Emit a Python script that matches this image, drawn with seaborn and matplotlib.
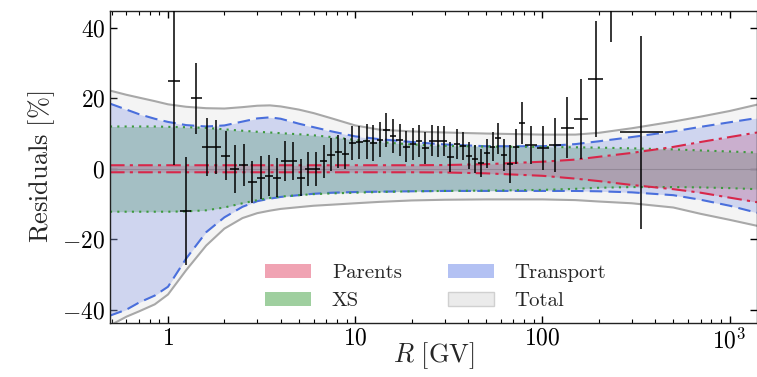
import numpy as np
import pandas as pd
import matplotlib
matplotlib.use("Agg")
import matplotlib.pyplot as plt
import seaborn as sns
from matplotlib.patches import Patch
from matplotlib.ticker import FixedLocator, FixedFormatter, FuncFormatter, LogLocator, NullFormatter

# --- data: rigidity bin edges and residuals (%) of the points ---
bin_edges = [1.00, 1.16, 1.33, 1.51, 1.71, 1.92, 2.15, 2.40, 2.67, 2.97, 3.29, 3.64, 4.02,
             4.43, 4.88, 5.37, 5.90, 6.47, 7.09, 7.76, 8.48, 9.26, 10.1, 11.0, 12.0, 13.0,
             14.1, 15.3, 16.6, 18.0, 19.5, 21.1, 22.8, 24.7, 26.7, 28.8, 31.1, 33.5, 36.1,
             38.9, 41.9, 45.1, 48.5, 52.2, 56.1, 60.3, 64.8, 69.7, 74.9, 80.5, 93.0, 108,
             125, 147, 175, 211, 259, 441]
resid = [25.0, -12.0, 20.0, 6.2, 6.2, 3.7, 0.0, 1.1, -3.8, -2.5, -2.0, -2.5, 2.1, 2.1,
         -2.5, 0.0, 0.0, 2.1, 4.0, 4.9, 4.3, 7.3, 7.5, 7.8, 7.3, 8.2, 11.1, 9.2, 8.2, 6.3,
         7.0, 7.8, 5.9, 8.0, 7.8, 7.8, 3.3, 7.0, 6.5, 3.7, 2.8, 1.6, 4.4, 6.3, 8.7, 4.0,
         1.4, 6.3, 13.0, 6.8, 5.9, 6.8, 11.7, 14.1, 25.5, 55.0, 10.3]
resid_err = [24.0, 15.3, 10.0, 8.2, 7.6, 7.0, 6.8, 6.0, 5.9, 6.0, 5.8, 5.5, 5.7, 5.4,
             5.3, 4.8, 4.9, 4.7, 4.7, 4.8, 4.5, 4.8, 4.6, 5.0, 5.0, 5.0, 4.8, 4.8, 4.6, 4.5,
             4.5, 4.5, 4.5, 4.4, 4.4, 4.3, 4.3, 4.2, 4.0, 3.8, 4.0, 4.0, 4.1, 4.0, 4.4, 4.5,
             5.4, 5.0, 6.0, 5.4, 6.2, 7.6, 8.7, 11.3, 16.5, 19.0, 27.5]

# --- uncertainty bands (%) ---
R_band = [0.49, 0.6, 0.7, 0.85, 1.0, 1.25, 1.6, 2.0, 2.5, 3.0, 3.5, 4.0, 5.0, 6.0, 7.5,
          10, 13.5, 20, 30, 50, 100, 150, 200, 300, 500, 700, 1000, 1400]
total_hi = [22.2, 21.0, 20.2, 19.2, 18.3, 17.6, 17.2, 17.1, 17.5, 17.9, 18.0, 17.7, 16.8,
            15.8, 14.3, 12.3, 11.1, 10.6, 10.3, 10.0, 9.7, 9.7, 10.2, 11.5, 13.4, 14.8,
            16.4, 18.2]
total_lo = [-44.5, -42.0, -40.5, -38.5, -35.7, -28.8, -21.8, -17.0, -14.0, -12.6, -11.9,
            -11.4, -10.9, -10.5, -10.2, -9.8, -9.4, -9.0, -8.8, -8.7, -8.7, -8.9, -9.3,
            -9.8, -11.0, -12.8, -14.5, -16.2]
transport_hi = [18.5, 16.8, 15.5, 14.2, 13.3, 12.4, 12.0, 12.3, 13.4, 14.3, 14.6, 14.2,
                12.8, 11.8, 10.6, 9.2, 8.4, 7.6, 6.9, 6.4, 6.4, 7.0, 7.8, 9.0, 10.6, 11.9,
                13.2, 14.4]
transport_lo = [-41.7, -40.0, -38.0, -36.0, -33.5, -25.5, -18.0, -13.8, -10.8, -9.2, -8.5,
                -8.0, -7.5, -7.1, -6.8, -6.6, -6.5, -6.4, -6.3, -6.3, -6.3, -6.3, -6.4,
                -6.7, -7.5, -8.8, -10.5, -12.5]
xs_hi = [12.0, 12.0, 12.0, 12.0, 11.9, 11.8, 11.6, 11.2, 10.8, 10.5, 10.3, 10.1, 9.8, 9.5,
         9.0, 8.2, 7.6, 6.9, 6.5, 6.3, 6.2, 6.1, 6.0, 5.8, 5.5, 5.2, 4.9, 4.6]
xs_lo = [-12.2, -12.2, -12.2, -12.2, -12.2, -12.1, -11.8, -11.0, -9.8, -8.9, -8.3, -7.9,
         -7.5, -7.2, -7.0, -6.8, -6.6, -6.4, -6.3, -6.2, -6.0, -5.7, -5.4, -5.2, -5.2,
         -5.3, -5.5, -5.8]
parents_hi = [1.0, 1.0, 1.0, 1.0, 1.0, 1.0, 1.0, 1.0, 1.0, 1.0, 1.0, 1.0, 1.0, 1.0, 1.0,
              1.0, 1.0, 1.0, 1.05, 1.3, 2.0, 2.6, 3.4, 4.5, 6.2, 7.6, 9.0, 10.3]
parents_lo = [-1.0, -1.0, -1.0, -1.0, -1.0, -1.0, -1.0, -1.0, -1.0, -1.0, -1.0, -1.0,
              -1.0, -1.0, -1.0, -1.0, -1.0, -1.0, -1.05, -1.3, -2.0, -2.8, -3.5, -4.6,
              -5.8, -6.8, -8.2, -9.5]

# --- style ---
sns.set_theme(style="ticks")
plt.rcParams["font.family"] = "serif"
plt.rcParams["font.serif"] = ["cmr10"]
plt.rcParams["mathtext.fontset"] = "cm"
plt.rcParams["axes.unicode_minus"] = True

fig = plt.figure(figsize=(7.57, 3.77), dpi=100)
ax = fig.add_axes([110 / 757, 54 / 377, 647 / 757, 312 / 377])

edges = np.array(bin_edges)
R_pts = np.sqrt(edges[:-1] * edges[1:])
bands = pd.DataFrame({"R": R_band, "tot_hi": total_hi, "tot_lo": total_lo,
                      "tr_hi": transport_hi, "tr_lo": transport_lo,
                      "xs_hi": xs_hi, "xs_lo": xs_lo,
                      "pa_hi": parents_hi, "pa_lo": parents_lo})

c_tot, c_tr, c_xs, c_pa = "#bfbfbf", "#7a90e6", "#64a084", "#c05a84"

ax.axhline(0, color="#9a9a9a", lw=0.8, zorder=1)
ax.fill_between(bands.R, bands.tot_lo, bands.tot_hi, color=c_tot, alpha=0.16, lw=0, zorder=1)
ax.fill_between(bands.R, bands.tr_lo, bands.tr_hi, color=c_tr, alpha=0.3, lw=0, zorder=1)
ax.fill_between(bands.R, bands.xs_lo, bands.xs_hi, color=c_xs, alpha=0.4, lw=0, zorder=1)
ax.fill_between(bands.R, bands.pa_lo, bands.pa_hi, color=c_pa, alpha=0.3, lw=0, zorder=1)

for col in ["tot_hi", "tot_lo"]:
    sns.lineplot(data=bands, x="R", y=col, ax=ax, color="#a8a8a8", lw=1.5, zorder=2)
for col in ["tr_hi", "tr_lo"]:
    sns.lineplot(data=bands, x="R", y=col, ax=ax, color="#4a6fdc", lw=1.5,
                 zorder=2).lines[-1].set_dashes([6, 3])
for col in ["xs_hi", "xs_lo"]:
    sns.lineplot(data=bands, x="R", y=col, ax=ax, color="#3d9a3d", lw=1.5,
                 zorder=2).lines[-1].set_dashes([1, 2.5])
for col in ["pa_hi", "pa_lo"]:
    sns.lineplot(data=bands, x="R", y=col, ax=ax, color="#d8274a", lw=1.5,
                 zorder=2).lines[-1].set_dashes([7, 2.5, 1.5, 2.5])

ax.errorbar(R_pts, resid, yerr=resid_err,
            xerr=[R_pts - edges[:-1], edges[1:] - R_pts],
            fmt="none", ecolor="black", elinewidth=1.1, capsize=0, zorder=3)

ax.set_xscale("log")
ax.set_xlim(0.49, 1400)
ax.set_ylim(-43.8, 44.8)
ax.xaxis.set_major_locator(FixedLocator([1, 10, 100, 1000]))
ax.xaxis.set_major_formatter(FixedFormatter(["$1$", "$10$", "$100$", "$10^3$"]))
ax.xaxis.set_minor_locator(LogLocator(base=10, subs=np.arange(2, 10)))
ax.xaxis.set_minor_formatter(NullFormatter())
ax.set_yticks([-40, -20, 0, 20, 40])
ax.yaxis.set_major_formatter(FuncFormatter(lambda v, p: f"${v:.0f}$"))
ax.tick_params(which="both", direction="in", top=True, right=True, labelsize=17, colors="black")
ax.tick_params(which="major", length=5, width=1)
ax.tick_params(which="minor", length=3, width=0.8)
for s in ax.spines.values():
    s.set_color("#222222")
    s.set_linewidth(1.0)

ax.set_xlabel(r"$R\ \mathrm{[GV]}$", fontsize=19, labelpad=-9)
ax.set_ylabel(r"$\mathrm{Residuals\ [\%]}$", fontsize=19, labelpad=4)

handles = [Patch(facecolor="#f0a3b3", edgecolor="none"),
           Patch(facecolor="#9fcf9f", edgecolor="none"),
           Patch(facecolor="#b3c1f3", edgecolor="none"),
           Patch(facecolor="#ebebeb", edgecolor="#d0d0d0")]
labels = ["Parents", "XS", "Transport", "Total"]
ax.legend(handles, labels, ncol=2, loc="upper left", bbox_to_anchor=(0.24, 0.19),
          frameon=False, fontsize=15, handlelength=2.2, handleheight=0.7,
          handletextpad=1.0, columnspacing=2.2, labelspacing=0.45,
          borderaxespad=0, borderpad=0)

fig.savefig("out.png", dpi=100)
